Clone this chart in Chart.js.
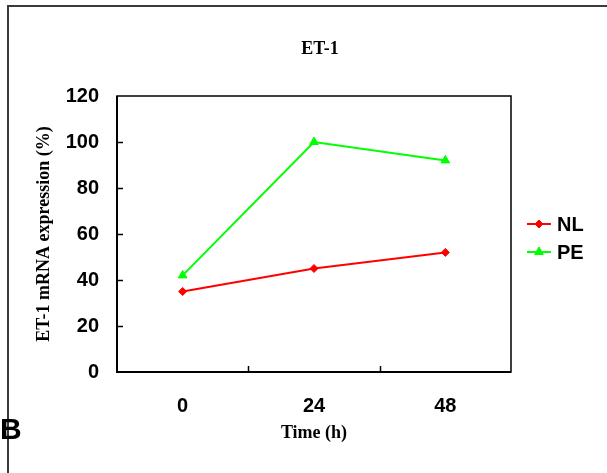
<!DOCTYPE html>
<html>
<head>
<meta charset="utf-8">
<title>ET-1</title>
<script src="https://cdn.jsdelivr.net/npm/chart.js@4/dist/chart.umd.min.js"></script>
<style>
  html, body { margin: 0; padding: 0; background: #fff; }
  canvas { display: block; }
</style>
</head>
<body>
<canvas id="chart" width="607" height="473"></canvas>
<script>
'use strict';

// ── Data ─────────────────────────────────────────────
const timePoints = ['0', '24', '48'];
const nlValues   = [35, 45, 52];
const peValues   = [42, 100, 92];
const yTicks     = [0, 20, 40, 60, 80, 100, 120];

const SERIF = '"Liberation Serif", "Times New Roman", serif';
const SANS  = '"Liberation Sans", Arial, sans-serif';

// ── Frame, inside ticks, title, legend, panel letter ──
const decorations = {
    id: 'decorations',
    beforeDraw(chart) {
        const { ctx, width, height } = chart;
        ctx.save();
        ctx.strokeStyle = '#3a3a3a';
        ctx.lineWidth = 2;
        ctx.beginPath();
        ctx.moveTo(width, 6);
        ctx.lineTo(8, 6);
        ctx.lineTo(8, height);
        ctx.stroke();
        ctx.restore();
    },
    beforeDatasetsDraw(chart) {
        const { ctx, chartArea: a, scales: { x, y } } = chart;
        ctx.save();
        ctx.strokeStyle = '#000';
        ctx.lineWidth = 1.5;
        ctx.strokeRect(a.left, a.top, a.right - a.left, a.bottom - a.top);
        ctx.lineWidth = 2;
        ctx.beginPath();
        ctx.moveTo(a.left, a.top);
        ctx.lineTo(a.left, a.bottom);
        ctx.lineTo(a.right, a.bottom);
        ctx.stroke();

        // short inward tick marks
        ctx.lineWidth = 1.5;
        ctx.beginPath();
        y.ticks.forEach(t => {
            if (t.value === 0 || t.value === 120) return;
            const py = Math.round(y.getPixelForValue(t.value)) + 0.5;
            ctx.moveTo(a.left, py);
            ctx.lineTo(a.left + 6, py);
        });
        for (let i = 1; i < timePoints.length; i++) {
            const px = Math.round((x.getPixelForTick(i - 1) + x.getPixelForTick(i)) / 2) + 0.5;
            ctx.moveTo(px, a.bottom);
            ctx.lineTo(px, a.bottom - 6);
        }
        ctx.stroke();
        ctx.restore();
    },
    afterDraw(chart) {
        const { ctx, chartArea: a } = chart;
        ctx.save();
        ctx.fillStyle = '#000';
        ctx.textBaseline = 'middle';

        // chart title
        ctx.font = 'bold 18px ' + SERIF;
        ctx.textAlign = 'center';
        ctx.fillText('ET-1', (a.left + a.right) / 2 + 6, 49);

        // panel letter
        ctx.font = 'bold 30px ' + SANS;
        ctx.textAlign = 'left';
        ctx.fillText('B', 0, 431);

        // legend: line sample + marker + label
        ctx.font = 'bold 20px ' + SANS;
        chart.data.datasets.forEach((ds, i) => {
            const ly = 224 + i * 28;
            ctx.strokeStyle = ds.borderColor;
            ctx.lineWidth = 2;
            ctx.beginPath();
            ctx.moveTo(a.right + 16, ly);
            ctx.lineTo(a.right + 40, ly);
            ctx.stroke();
            ctx.fillStyle = ds.pointBackgroundColor;
            ctx.strokeStyle = ds.borderColor;
            ctx.lineWidth = 1;
            Chart.helpers.drawPoint(ctx, {
                pointStyle: ds.pointStyle, radius: ds.pointRadius, rotation: 0, borderWidth: 1
            }, a.right + 28, ly);
            ctx.fillStyle = '#000';
            ctx.fillText(ds.label, a.right + 46, ly + 1);
        });
        ctx.restore();
    }
};

new Chart(document.getElementById('chart'), {
    type: 'line',
    data: {
        labels: timePoints,
        datasets: [
            {
                label: 'NL', data: nlValues,
                borderColor: '#ff0000', backgroundColor: '#ff0000', pointBackgroundColor: '#ff0000',
                borderWidth: 2, pointStyle: 'rectRot', pointRadius: 4, pointBorderWidth: 1,
                tension: 0, fill: false,
            },
            {
                label: 'PE', data: peValues,
                borderColor: '#00ff00', backgroundColor: '#00ff00', pointBackgroundColor: '#00ff00',
                borderWidth: 2, pointStyle: 'triangle', pointRadius: 5, pointBorderWidth: 1,
                tension: 0, fill: false,
            },
        ],
    },
    options: {
        responsive: false,
        animation: false,
        devicePixelRatio: 1,
        layout: { padding: { top: 96, right: 96, bottom: 0, left: 0 } },
        plugins: {
            legend: { display: false },
            title: { display: false },
            tooltip: { enabled: false },
        },
        scales: {
            x: {
                offset: true,
                grid: { display: false, drawTicks: false },
                border: { display: false },
                ticks: { color: '#000', font: { family: SANS, size: 20, weight: 'bold' }, padding: 22, maxRotation: 0 },
                title: {
                    display: true, text: 'Time (h)', color: '#000',
                    font: { family: SERIF, size: 18, weight: 'bold' },
                    padding: { top: 0, bottom: 29 },
                },
                afterFit: s => { s.height = 101; },
            },
            y: {
                min: yTicks[0], max: yTicks[yTicks.length - 1],
                grid: { display: false, drawTicks: false },
                border: { display: false },
                afterBuildTicks: s => { s.ticks = yTicks.map(v => ({ value: v })); },
                ticks: { color: '#000', font: { family: SANS, size: 20, weight: 'bold' }, padding: 18 },
                title: {
                    display: true, text: 'ET-1 mRNA expression (%)', color: '#000',
                    font: { family: SERIF, size: 18, weight: 'bold' },
                    padding: { top: 34, bottom: 0 },
                },
                afterFit: s => { s.width = 117; },
            },
        },
    },
    plugins: [decorations],
});
</script>
</body>
</html>
